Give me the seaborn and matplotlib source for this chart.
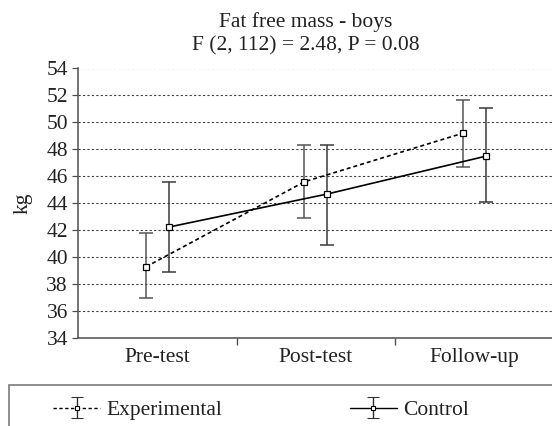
import numpy as np
import pandas as pd
import matplotlib
matplotlib.use("Agg")
import matplotlib.pyplot as plt
import seaborn as sns
from matplotlib.ticker import FixedLocator
from matplotlib.patches import Rectangle

categories = ["Pre-test", "Post-test", "Follow-up"]
groups = ["Experimental", "Control"]
exp_mean = [39.3, 45.6, 49.2]
exp_low = [37.0, 42.9, 46.7]
exp_high = [41.8, 48.3, 51.7]
ctl_mean = [42.25, 44.7, 47.5]
ctl_low = [38.95, 40.9, 44.1]
ctl_high = [45.55, 48.35, 51.05]
yticks = [34, 36, 38, 40, 42, 44, 46, 48, 50, 52, 54]

sns.set_theme(style="white")
plt.rcParams["font.family"] = ["Liberation Serif", "DejaVu Serif"]
FS = 15.5

W, H = 552, 426
fig = plt.figure(figsize=(W/100, H/100), dpi=100)
ax = fig.add_axes([78.4/W, 1-338.3/H, 475/W, (338.3-68.5)/H])

rows = []
for g, m, lo, hi in [("Experimental", exp_mean, exp_low, exp_high),
                     ("Control", ctl_mean, ctl_low, ctl_high)]:
    for i, c in enumerate(categories):
        rows.append(dict(group=g, cat=c, idx=i, mean=m[i], low=lo[i], high=hi[i]))
df = pd.DataFrame(rows)
offsets = {"Experimental": -0.073, "Control": 0.073}
df["x"] = df["idx"] + df["group"].map(offsets)

styles = {"Experimental": (0, (2.4, 1.8)), "Control": "-"}
ecolors = {"Experimental": "#555555", "Control": "#3a3a3a"}
handles = {}
for g in groups:
    d = df[df.group == g]
    ax.errorbar(d["x"], d["mean"], yerr=[d["mean"] - d["low"], d["high"] - d["mean"]],
                fmt="none", ecolor=ecolors[g], elinewidth=1.1, capsize=4.7, capthick=1.1, zorder=2)
    sns.lineplot(data=d, x="x", y="mean", ax=ax, color="black", linewidth=1.2,
                 linestyle=styles[g], marker="s", markersize=4, markerfacecolor="white",
                 markeredgecolor="black", markeredgewidth=0.9, zorder=3, legend=False)
    h = ax.errorbar([np.nan], [np.nan], yerr=[1], fmt="-", color="black",
                    ecolor="#303030", linestyle=styles[g], linewidth=1.0,
                    marker="s", markersize=3.5, markerfacecolor="white",
                    markeredgecolor="black", markeredgewidth=0.8,
                    capsize=4, elinewidth=1.0, capthick=1.0)
    handles[g] = h

ax.set_xlim(-0.5, 2.5)
ax.set_ylim(34, 54)
ax.set_yticks(yticks)
ax.set_xticks(range(len(categories)))
ax.set_xticklabels(categories)
ax.xaxis.set_minor_locator(FixedLocator([0.5, 1.5]))
ax.tick_params(axis="x", which="major", length=0, pad=7, labelsize=FS, colors="#222222")
ax.tick_params(axis="x", which="minor", length=5, width=1.0, color="#505050", direction="out", bottom=True)
ax.tick_params(axis="y", length=4, width=0.9, color="#505050", direction="out", left=True,
               labelsize=FS, pad=3.5, labelcolor="#222222")
ax.yaxis.grid(True, linestyle=(0, (2, 2)), color="#404040", linewidth=0.8)
ax.set_axisbelow(True)
for s in ["top", "right"]:
    ax.spines[s].set_visible(False)
for s in ["left", "bottom"]:
    ax.spines[s].set_color("#505050")
    ax.spines[s].set_linewidth(1.1)
ax.set_xlabel("")
ax.set_ylabel("kg", fontsize=FS, color="#222222")
ax.yaxis.set_label_coords((33 - 78.4)/475, 0.5)

fig.text(306/W, 1-22/H, "Fat free mass - boys", ha="center", va="center", fontsize=FS, color="#222222")
fig.text(306/W, 1-46/H, "F (2, 112) = 2.48, P = 0.08", ha="center", va="center", fontsize=FS, color="#222222")

# legend frame (open to the right/bottom edge as in the reference)
fig.patches.append(Rectangle((8.8/W, -0.05), 1.0, 1.05 - 385/H, transform=fig.transFigure,
                             fill=False, edgecolor="#707070", linewidth=1.1, figure=fig))
leg = fig.legend([handles[g] for g in groups], groups, loc="center left",
                 bbox_to_anchor=(53/W, 1-410/H), ncol=2, fontsize=FS, frameon=False,
                 handlelength=2.2, handletextpad=0.3, columnspacing=5.9, borderpad=0,
                 borderaxespad=0, labelcolor="#222222")

fig.savefig("out.png", dpi=100)
